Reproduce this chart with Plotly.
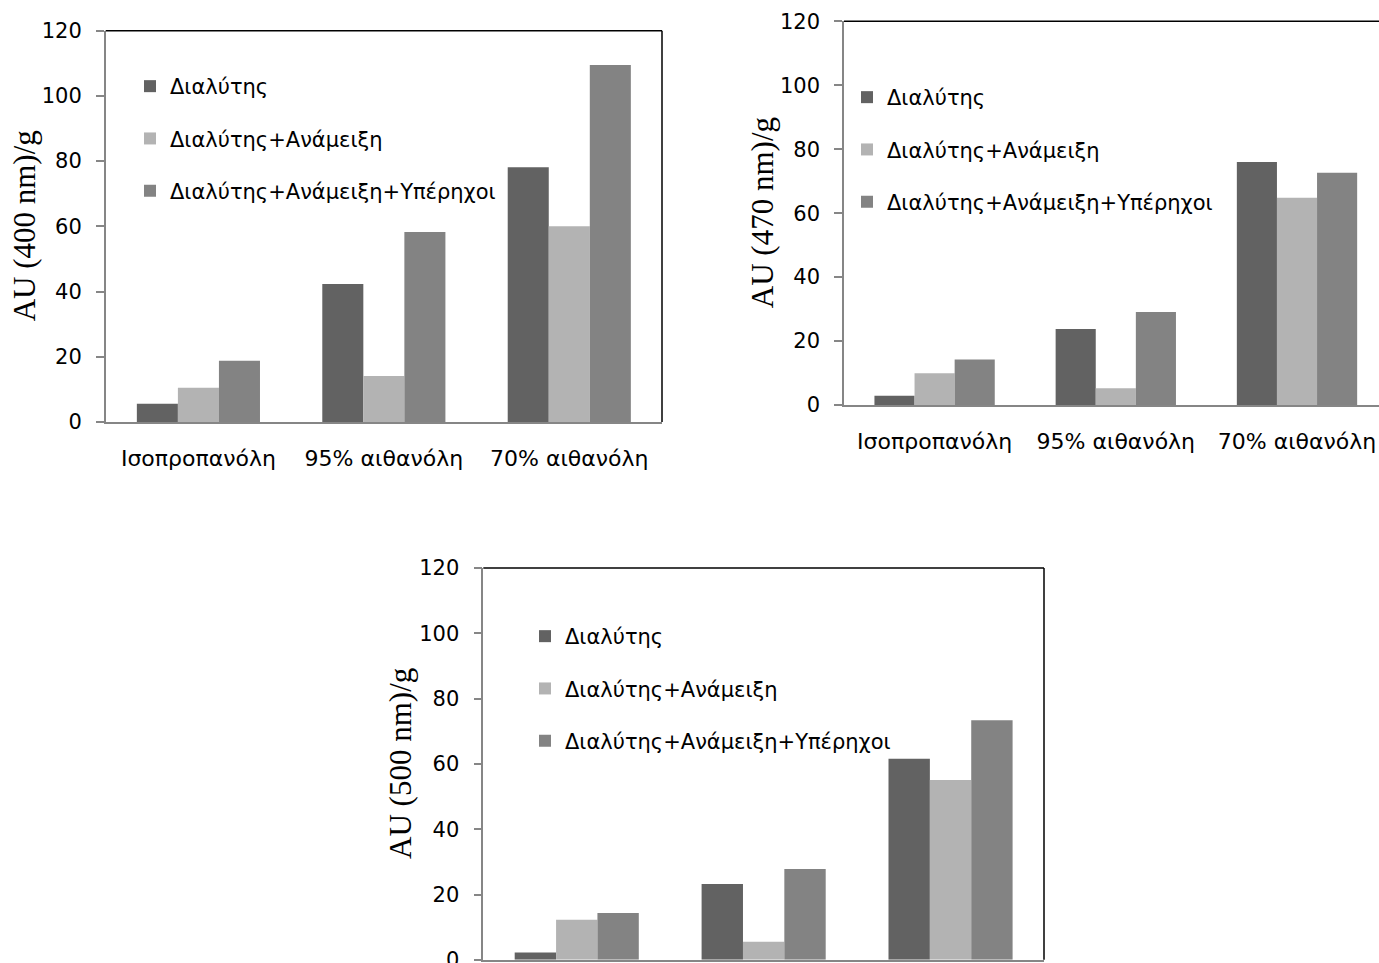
import plotly.graph_objects as go

# Categories (solvent systems) and series names
categories = ["Ισοπροπανόλη", "95% αιθανόλη", "70% αιθανόλη"]
series_names = ["Διαλύτης", "Διαλύτης+Ανάμειξη", "Διαλύτης+Ανάμειξη+Υπέρηχοι"]
series_colors = ["#626262", "#b3b3b3", "#838383"]

# Absorbance units per gram at 400 nm
au400_solvent = [5.6, 42.3, 78.1]
au400_mix = [10.5, 14.1, 60.0]
au400_ultrasound = [18.8, 58.3, 109.5]

# Absorbance units per gram at 470 nm
au470_solvent = [2.9, 23.8, 76.0]
au470_mix = [9.9, 5.2, 64.8]
au470_ultrasound = [14.2, 29.1, 72.6]

# Absorbance units per gram at 500 nm
au500_solvent = [2.2, 23.2, 61.6]
au500_mix = [12.3, 5.5, 55.1]
au500_ultrasound = [14.3, 27.8, 73.4]

y_titles = ["AU (400 nm)/g", "AU (470 nm)/g", "AU (500 nm)/g"]
y_ticks = [0, 20, 40, 60, 80, 100, 120]

W, H = 1379, 963
FONT = "DejaVu Sans"
AXIS_GRAY = "#868686"


def px_x(p):
    return p / W


def px_y(p):
    return 1 - p / H


panels = [
    dict(values=[au400_solvent, au400_mix, au400_ultrasound],
         xdom=(105.7, 662.0), ydom=(30.7, 422.0), xend=2.5,
         legend=(130, 66), title_x=24, frame_right=True, xlabels=True),
    dict(values=[au470_solvent, au470_mix, au470_ultrasound],
         xdom=(844.0, 1379.0), ydom=(21.3, 405.0), xend=-0.5 + (1379 - 844) / 181.2,
         legend=(847, 77), title_x=762, frame_right=False, xlabels=True),
    # lower panel: its category labels fall below the page edge
    dict(values=[au500_solvent, au500_mix, au500_ultrasound],
         xdom=(483.3, 1044.0), ydom=(568.0, 959.8), xend=2.5,
         legend=(525, 616), title_x=401, frame_right=True, xlabels=False),
]

fig = go.Figure()
layout = dict(
    width=W, height=H, autosize=False,
    margin=dict(l=0, r=0, t=0, b=0, autoexpand=False),
    paper_bgcolor="white", plot_bgcolor="white",
    barmode="group", bargap=0.336, bargroupgap=0,
    font=dict(family=FONT, size=21, color="black"),
    showlegend=True,
    shapes=[], annotations=[],
)

for i, p in enumerate(panels, start=1):
    sfx = "" if i == 1 else str(i)
    leg = "legend" if i == 1 else f"legend{i}"
    for name, vals, col in zip(series_names, p["values"], series_colors):
        fig.add_trace(go.Bar(
            x=categories, y=vals, name=name,
            marker=dict(color=col, line=dict(width=0)),
            xaxis=f"x{sfx}", yaxis=f"y{sfx}",
            legend=leg, legendgroup=f"{name}-{i}",
        ))

    layout[f"xaxis{sfx}"] = dict(
        domain=[px_x(p["xdom"][0]), px_x(p["xdom"][1])],
        anchor=f"y{sfx}", range=[-0.5, p["xend"]],
        showline=True, linecolor=AXIS_GRAY, linewidth=1.5,
        ticks="", showgrid=False, zeroline=False,
        showticklabels=p["xlabels"],
        tickfont=dict(family=FONT, size=22, color="black"),
        ticklabelstandoff=16, fixedrange=True, automargin=False,
    )
    layout[f"yaxis{sfx}"] = dict(
        domain=[px_y(p["ydom"][1]), px_y(p["ydom"][0])],
        anchor=f"x{sfx}", range=[0, 120], tickvals=y_ticks,
        showline=True, linecolor=AXIS_GRAY, linewidth=1.5,
        ticks="outside", ticklen=8, tickcolor=AXIS_GRAY, tickwidth=1.5,
        showgrid=False, zeroline=False,
        tickfont=dict(family=FONT, size=21, color="black"),
        ticklabelstandoff=10, ticklabeloverflow="allow",
        fixedrange=True, automargin=False,
    )
    layout[leg] = dict(
        x=px_x(p["legend"][0]), y=px_y(p["legend"][1]),
        xanchor="left", yanchor="top",
        bgcolor="rgba(0,0,0,0)", borderwidth=0,
        font=dict(family=FONT, size=21, color="black"),
        traceorder="grouped", tracegroupgap=22,
        itemclick=False, itemdoubleclick=False,
    )

    # plot-area frame: top edge, and right edge where it falls on the page
    xref = f"x{sfx} domain"
    yref = f"y{sfx} domain"
    layout["shapes"].append(dict(type="line", xref=xref, yref=yref,
                                 x0=0, x1=1, y0=1, y1=1,
                                 line=dict(color="black", width=1.5)))
    if p["frame_right"]:
        layout["shapes"].append(dict(type="line", xref=xref, yref=yref,
                                     x0=1, x1=1, y0=0, y1=1,
                                     line=dict(color="black", width=1.5)))

    # rotated y-axis title
    layout["annotations"].append(dict(
        text=y_titles[i - 1], textangle=-90, showarrow=False,
        xref="paper", yref="paper",
        x=px_x(p["title_x"]), y=px_y((p["ydom"][0] + p["ydom"][1]) / 2),
        xanchor="center", yanchor="middle",
        font=dict(family="Liberation Serif", size=31, color="black"),
    ))

fig.update_layout(**layout)
fig.write_html("out.html", config=dict(displayModeBar=False))
